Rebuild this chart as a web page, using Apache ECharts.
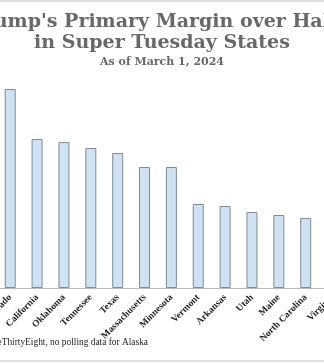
<!DOCTYPE html>
<html><head><meta charset="utf-8">
<script src="https://cdn.jsdelivr.net/npm/echarts@6/dist/echarts.min.js"></script>
<style>html,body{margin:0;padding:0;background:#fff}#c{width:324px;height:363px}</style>
</head><body><div id="c"></div><script>
const states = ['Colorado','California','Oklahoma','Tennessee','Texas','Massachusetts','Minnesota','Vermont','Arkansas','Utah','Maine','North Carolina','Virginia'];
const margins = [79.6,59.6,58.4,56,54,48.4,48.4,33.6,32.8,30.4,29.2,28,27];
const titleLines = ["Trump's Primary Margin over Haley","in Super Tuesday States"];
const subtitle = 'As of March 1, 2024';
const source = 'Source: FiveThirtyEight, no polling data for Alaska';
const chart = echarts.init(document.getElementById('c'), null, {renderer:'canvas'});
chart.setOption({
  animation:false,
  title:[
    {text: titleLines.join('\n'), left:'center', top:7, textStyle:{fontFamily:'DejaVu Serif', fontWeight:'bold', fontSize:19, lineHeight:21, color:'#686868'}},
    {text: subtitle, left:'center', top:52, textStyle:{fontFamily:'DejaVu Serif', fontWeight:'bold', fontSize:11, color:'#686868'}}
  ],
  grid:{left:-3.2, right:-22, top:38, bottom:75, containLabel:false, outerBoundsMode:'none'},
  xAxis:{type:'category', data:states, axisLine:{lineStyle:{color:'#bbb'}}, axisTick:{show:false},
    axisLabel:{interval:0, rotate:45, fontFamily:'Liberation Serif', fontWeight:'bold', fontSize:9.5, color:'#222', margin:8, hideOverlap:false}},
  yAxis:{type:'value', min:0, max:100, show:false, splitLine:{show:false}},
  series:[{type:'bar', data:margins, barWidth:11, itemStyle:{color:'#cfe2f3', borderColor:'#7f8b96', borderWidth:1}}],
  graphic:[
    {type:'rect', shape:{x:0,y:0,width:324,height:2}, style:{fill:'#e0e0e0'}, silent:true},
    {type:'rect', shape:{x:0,y:360,width:324,height:2}, style:{fill:'#e0e0e0'}, silent:true},
    {type:'text', x:148, y:343, style:{text:source, textAlign:'right', textVerticalAlign:'middle', font:'9.4px "Liberation Serif"', fill:'#222'}}
  ]
});
</script></body></html>
